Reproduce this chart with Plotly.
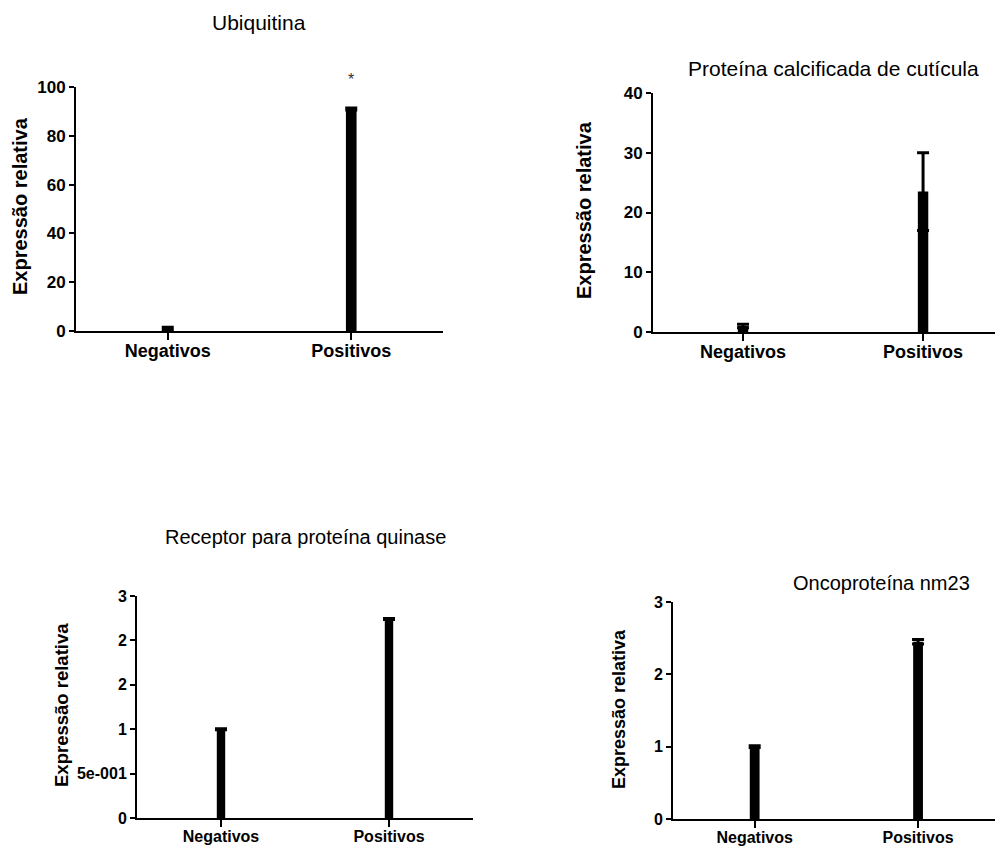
import plotly.graph_objects as go

categories = ["Negativos", "Positivos"]

ubiquitina_vals = [1.0, 91.0]
ubiquitina_err = [0.5, 0.4]

cuticula_vals = [1.0, 23.5]
cuticula_err = [0.3, 6.5]

quinase_vals = [1.0, 2.24]
quinase_err = [0.006, 0.006]

nm23_vals = [1.0, 2.45]
nm23_err = [0.012, 0.03]

titles = ["Ubiquitina", "Proteína calcificada de cutícula",
          "Receptor para proteína quinase", "Oncoproteína nm23"]
ytitle = "Expressão relativa"

quinase_tickvals = [0, 0.5, 1, 1.5, 2, 2.5]
quinase_ticktext = ["0", "5e-001", "1", "2", "2", "3"]

# page body has an 8px margin; the figure is sized to fill the rest of the window
OFF = 8
W, H = 1003 - OFF, 846 - OFF
FONT = "Liberation Sans, Arial, sans-serif"


def px(x):
    return (x - OFF) / W


def py(y):
    return 1 - (y - OFF) / H


panels = [
    dict(v=ubiquitina_vals, e=ubiquitina_err, xd=(76, 443), yd=(87, 331),
         xr=[-0.5, 1.5], yr=[0, 100], bw=0.058, tf=17, lf=18, yf=20,
         ylab=(20, 206), title=(259, 22), tfs=21, dtick=20, so=-5),
    dict(v=cuticula_vals, e=cuticula_err, xd=(653, 1003), yd=(93, 332),
         xr=[-0.5, 1.444], yr=[0, 40], bw=0.058, tf=17, lf=18, yf=20,
         ylab=(584, 210), title=(833, 68), tfs=21, dtick=10, so=-5),
    dict(v=quinase_vals, e=quinase_err, xd=(137, 473), yd=(596, 818),
         xr=[-0.5, 1.5], yr=[0, 2.5], bw=0.05, tf=16, lf=16, yf=18.5,
         ylab=(61, 705), title=(305, 537), tfs=20, dtick=None, so=-4),
    dict(v=nm23_vals, e=nm23_err, xd=(673, 1003), yd=(602, 819),
         xr=[-0.5, 1.52], yr=[0, 3], bw=0.06, tf=16, lf=16, yf=18,
         ylab=(619, 709), title=(881, 583), tfs=20, dtick=1, so=-4),
]

fig = go.Figure()
layout = dict(width=W, height=H, margin=dict(l=0, r=0, t=0, b=0, pad=0),
              paper_bgcolor="white", plot_bgcolor="white", showlegend=False,
              font=dict(family=FONT, color="black"), annotations=[])

for i, p in enumerate(panels):
    n = "" if i == 0 else str(i + 1)
    fig.add_trace(go.Bar(
        x=categories, y=p["v"], width=p["bw"],
        marker=dict(color="black", line=dict(width=0)),
        error_y=dict(type="data", array=p["e"], visible=True,
                     color="black", thickness=3, width=6),
        xaxis="x" + n, yaxis="y" + n,
    ))
    xa = dict(domain=[px(p["xd"][0]), min(1.0, px(p["xd"][1]))], range=p["xr"],
              anchor="y" + n, showline=True, linecolor="black", linewidth=2,
              ticks="outside", ticklen=7, tickwidth=2, tickcolor="black",
              ticklabelstandoff=p["so"],
              showgrid=False, zeroline=False, fixedrange=True, automargin=False,
              tickfont=dict(family=FONT, size=p["lf"], color="black", weight="bold"))
    ya = dict(domain=[py(p["yd"][1]), py(p["yd"][0])], range=p["yr"],
              anchor="x" + n, showline=True, linecolor="black", linewidth=2,
              ticks="outside", ticklen=5, tickwidth=2, tickcolor="black",
              showgrid=False, zeroline=False, fixedrange=True, automargin=False,
              tickfont=dict(family=FONT, size=p["tf"], color="black", weight="bold"))
    if p["dtick"] is not None:
        ya.update(tickmode="linear", tick0=0, dtick=p["dtick"])
    else:
        ya.update(tickmode="array", tickvals=quinase_tickvals, ticktext=quinase_ticktext)
    layout["xaxis" + n] = xa
    layout["yaxis" + n] = ya
    layout["annotations"].append(dict(
        text=ytitle, textangle=-90, x=px(p["ylab"][0]), y=py(p["ylab"][1]),
        xref="paper", yref="paper", showarrow=False, xanchor="center", yanchor="middle",
        font=dict(family=FONT, size=p["yf"], color="black", weight="bold")))
    layout["annotations"].append(dict(
        text=titles[i], x=px(p["title"][0]), y=py(p["title"][1]),
        xref="paper", yref="paper", showarrow=False, xanchor="center", yanchor="middle",
        font=dict(family=FONT, size=p["tfs"], color="black")))

# significance star above the Positivos bar of the Ubiquitina panel
layout["annotations"].append(dict(
    text="*", x="Positivos", y=py(79), xref="x", yref="paper", showarrow=False,
    xanchor="center", yanchor="middle", font=dict(family=FONT, size=16, color="#333")))

fig.update_layout(**layout)
fig.write_html("out.html")
